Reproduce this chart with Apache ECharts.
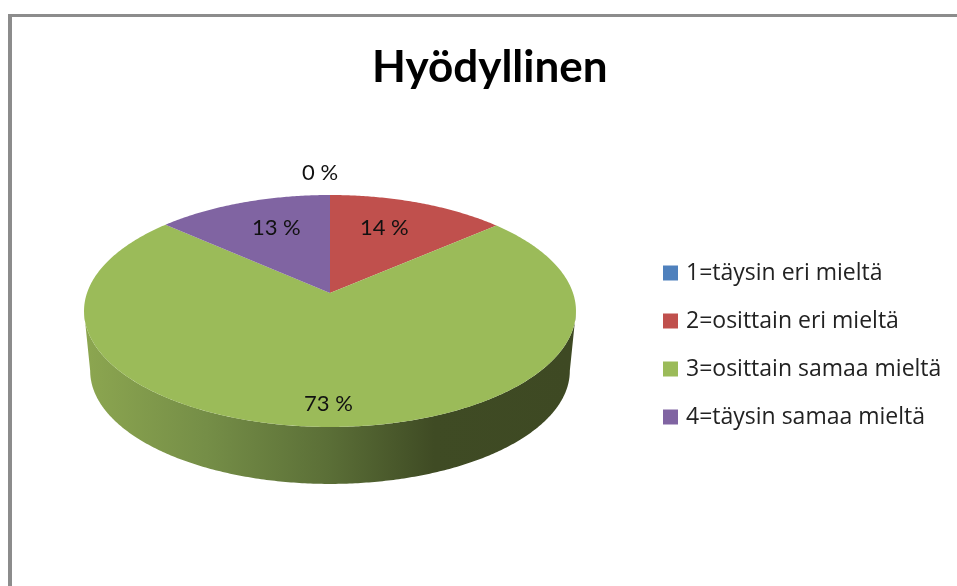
<!DOCTYPE html>
<html>
<head>
<meta charset="utf-8">
<style>html,body{margin:0;padding:0;background:#fff}#c{width:957px;height:586px}</style>
<script src="https://cdn.jsdelivr.net/npm/echarts@6/dist/echarts.min.js"></script>
</head>
<body>
<div id="c"></div>
<script>
const titleText = 'Hyödyllinen';
const categories = ['1=täysin eri mieltä', '2=osittain eri mieltä', '3=osittain samaa mieltä', '4=täysin samaa mieltä'];
const values = [0, 13.6, 72.9, 13.4];
const colors = ['#4f81bd', '#c0504d', '#9bbb59', '#8064a2'];

// Perspective of the tilted disc
const geo = { cx: 330, cy: 293, rx: 243, ry: 113.2, k: -0.155, depth: 60.3, bottomScale: 0.975 };
const labelRadius = [1.27, 0.63, 0.85, 0.62];
const labelNudge = [[-10, 0], [-4, -5], [0, 0], [3, -6]];
const total = values.reduce((a, b) => a + b, 0);

function project(angle, rho, scale, dy) {
  const u = Math.sin(angle) * rho, v = -Math.cos(angle) * rho;
  const w = 1 + geo.k * v;
  return [geo.cx + geo.rx * scale * u / w, geo.cy + dy + geo.ry * scale * v / w];
}
function arc(a0, a1, scale, dy) {
  const n = Math.max(2, Math.ceil(Math.abs(a1 - a0) / 0.01));
  const pts = [];
  for (let i = 0; i <= n; i++) pts.push(project(a0 + (a1 - a0) * i / n, 1, scale, dy));
  return pts;
}
function startOf(i) {
  let s = 0;
  for (let j = 0; j < i; j++) s += values[j];
  return s / total * Math.PI * 2;
}
// Angle at which the rim reaches furthest right: the wall's silhouette starts there
function rightmostAngle() {
  let best = 0, bestX = -Infinity;
  for (let a = 0; a < Math.PI; a += 0.002) {
    const x = project(a, 1, 1, 0)[0];
    if (x > bestX) { bestX = x; best = a; }
  }
  return best;
}
const wallStart = rightmostAngle();
const wallEnd = Math.PI * 2 - wallStart;
const wallGradient = new echarts.graphic.LinearGradient(85, 0, 570, 0, [
  { offset: 0, color: '#8ca650' },
  { offset: 0.25, color: '#758e47' },
  { offset: 0.5, color: '#5b6f37' },
  { offset: 0.72, color: '#3f4b24' },
  { offset: 1, color: '#3e4923' }
], true);

function makeRender(i) {
  return function (params, api) {
    const val = api.value(0);
    const a0 = startOf(i), a1 = a0 + val / total * Math.PI * 2;
    const children = [];
    if (val > 0) {
      const top = arc(a0, a1, 1, 0);
      const w0 = Math.max(a0, wallStart), w1 = Math.min(a1, wallEnd);
      if (w1 > w0) {
        const upper = arc(w0, w1, 1, 0);
        const lower = arc(w0, w1, geo.bottomScale, geo.depth).reverse();
        children.push({ type: 'polygon', z2: 0, shape: { points: upper.concat(lower) }, style: { fill: wallGradient } });
      }
      children.push({ type: 'polygon', z2: 1, shape: { points: [project(0, 0, 1, 0)].concat(top) }, style: { fill: colors[i] } });
    }
    const mid = (a0 + a1) / 2;
    const p = project(mid, labelRadius[i], 1, 0);
    children.push({
      type: 'text', z2: 5,
      x: p[0] + labelNudge[i][0], y: p[1] + labelNudge[i][1],
      style: { text: Math.round(val) + ' %', fill: '#111', font: '22px Lato', align: 'center', verticalAlign: 'middle' }
    });
    return { type: 'group', children };
  };
}

const chart = echarts.init(document.getElementById('c'), null, { renderer: 'canvas' });
chart.setOption({
  animation: false,
  backgroundColor: '#ffffff',
  color: colors,
  title: { text: titleText, left: 372, top: 46, textStyle: { fontFamily: 'Lato', fontWeight: 'bold', fontSize: 44, color: '#000' }, padding: 0 },
  legend: {
    orient: 'vertical', left: 663, top: 261, padding: 0,
    itemWidth: 15, itemHeight: 15, itemGap: 24, icon: 'rect',
    data: categories,
    textStyle: { fontFamily: 'Open Sans', fontSize: 23, color: '#222', lineHeight: 24, padding: [0, 0, 0, 3] },
    selectedMode: false
  },
  graphic: [
    { type: 'rect', shape: { x: 8, y: 14, width: 949, height: 3 }, style: { fill: '#8c8c8c' } },
    { type: 'rect', shape: { x: 8, y: 14, width: 4, height: 572 }, style: { fill: '#8c8c8c' } }
  ],
  series: categories.map((name, i) => ({
    type: 'custom', name, coordinateSystem: 'none', silent: true,
    itemStyle: { color: colors[i] },
    renderItem: makeRender(i),
    data: [[values[i]]]
  }))
});
</script>
</body>
</html>
